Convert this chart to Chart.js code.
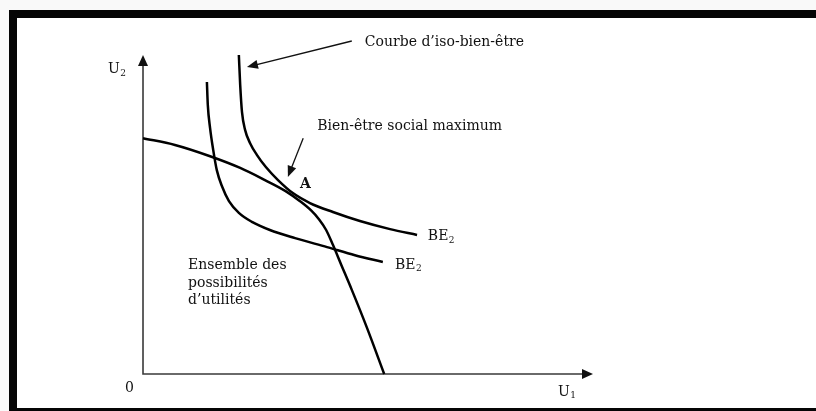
<!DOCTYPE html>
<html>
<head>
<meta charset="utf-8">
<script src="https://cdn.jsdelivr.net/npm/chart.js@4.4.1/dist/chart.umd.min.js"></script>
<style>
  html, body { margin: 0; padding: 0; background: #f9f9f9; }
  #wrap { position: relative; width: 816px; height: 411px; overflow: hidden; }
  #frame {
    position: absolute; left: 9px; top: 10px; width: 799px; height: 390px;
    background: #fff;
    border-top: 8px solid #050505; border-left: 8px solid #050505; border-bottom: 3px solid #050505;
  }
  #chart { position: absolute; left: 0; top: 0; }
</style>
</head>
<body>
<div id="wrap">
  <div id="frame"></div>
  <canvas id="chart" width="816" height="411"></canvas>
</div>
<script>
// utility possibility frontier (U1, U2)
const frontierU1 = [0, 0.71, 1.49, 2.16, 2.71, 3.16, 3.49, 3.73, 3.91, 4.07, 4.22, 4.4, 4.64, 4.98, 5.36];
const frontierU2 = [5.24, 5.09, 4.84, 4.58, 4.31, 4.07, 3.84, 3.64, 3.44, 3.2, 2.87, 2.44, 1.87, 1.02, 0];

// iso-welfare curve touching the frontier at A
const outerU1 = [2.13, 2.16, 2.2, 2.27, 2.38, 2.53, 2.73, 3.0, 3.33, 3.71, 4.22, 4.82, 5.49, 6.09];
const outerU2 = [7.09, 6.42, 5.82, 5.42, 5.13, 4.87, 4.6, 4.31, 4.02, 3.8, 3.6, 3.4, 3.22, 3.09];

// lower iso-welfare curve
const innerU1 = [1.42, 1.44, 1.49, 1.56, 1.64, 1.76, 1.91, 2.13, 2.42, 2.82, 3.38, 4.09, 4.71, 5.33];
const innerU2 = [6.49, 5.98, 5.47, 4.98, 4.53, 4.16, 3.84, 3.58, 3.38, 3.2, 3.02, 2.82, 2.64, 2.49];

// axis ends
const axisU1Max = 10;
const axisU2Max = 7.09;

// view window (in data units)
const X_MIN = -3.178, X_MAX = 14.956;
const Y_MIN = -0.822, Y_MAX = 8.311;

const toPoints = (xs, ys) => xs.map((x, i) => ({ x: x, y: ys[i] }));

// text and arrows drawn on top
const labels = [
  { text: "Courbe d\u2019iso-bien-\u00eatre", x: 4.93, y: 7.38 },
  { text: "Bien-\u00eatre social maximum", x: 3.87, y: 5.51 },
  { text: "A", x: 3.49, y: 4.22, bold: true },
  { text: "BE", sub: "2", x: 6.33, y: 3.06 },
  { text: "BE", sub: "2", x: 5.6, y: 2.42 },
  { text: "Ensemble des", x: 1.0, y: 2.42 },
  { text: "possibilit\u00e9s", x: 1.0, y: 2.02 },
  { text: "d\u2019utilit\u00e9s", x: 1.0, y: 1.64 },
  { text: "U", sub: "2", x: -0.78, y: 6.76 },
  { text: "0", x: -0.4, y: -0.33 },
  { text: "U", sub: "1", x: 9.22, y: -0.4 }
];
const arrows = [
  { from: [4.64, 7.4], to: [2.31, 6.82] },
  { from: [3.56, 5.24], to: [3.22, 4.38] }
];

function arrowHead(ctx, x1, y1, x2, y2, len, half) {
  const a = Math.atan2(y2 - y1, x2 - x1);
  ctx.beginPath();
  ctx.moveTo(x2, y2);
  ctx.lineTo(x2 - len * Math.cos(a) + half * Math.sin(a), y2 - len * Math.sin(a) - half * Math.cos(a));
  ctx.lineTo(x2 - len * Math.cos(a) - half * Math.sin(a), y2 - len * Math.sin(a) + half * Math.cos(a));
  ctx.closePath();
  ctx.fill();
}

const decorPlugin = {
  id: 'decor',
  beforeDatasetsDraw(chart) {
    const ctx = chart.ctx;
    const xs = chart.scales.x, ys = chart.scales.y;
    const ox = xs.getPixelForValue(0), oy = ys.getPixelForValue(0);
    const ex = xs.getPixelForValue(axisU1Max), ey = ys.getPixelForValue(axisU2Max);
    ctx.save();
    ctx.strokeStyle = '#3a3a3a';
    ctx.fillStyle = '#111';
    ctx.lineWidth = 1.6;
    ctx.beginPath();
    ctx.moveTo(ox, ey + 6);
    ctx.lineTo(ox, oy);
    ctx.lineTo(ex - 6, oy);
    ctx.stroke();
    arrowHead(ctx, ox, oy, ox, ey, 11, 5);
    arrowHead(ctx, ox, oy, ex, oy, 11, 5);
    ctx.restore();
  },
  afterDatasetsDraw(chart) {
    const ctx = chart.ctx;
    const xs = chart.scales.x, ys = chart.scales.y;
    ctx.save();
    ctx.strokeStyle = '#111';
    ctx.fillStyle = '#111';
    ctx.lineWidth = 1.3;
    arrows.forEach(a => {
      const x1 = xs.getPixelForValue(a.from[0]), y1 = ys.getPixelForValue(a.from[1]);
      const x2 = xs.getPixelForValue(a.to[0]), y2 = ys.getPixelForValue(a.to[1]);
      const ang = Math.atan2(y2 - y1, x2 - x1);
      ctx.beginPath();
      ctx.moveTo(x1, y1);
      ctx.lineTo(x2 - 6 * Math.cos(ang), y2 - 6 * Math.sin(ang));
      ctx.stroke();
      arrowHead(ctx, x1, y1, x2, y2, 11, 4.5);
    });
    ctx.fillStyle = '#111';
    ctx.textBaseline = 'middle';
    ctx.textAlign = 'left';
    labels.forEach(l => {
      const px = xs.getPixelForValue(l.x), py = ys.getPixelForValue(l.y);
      ctx.font = (l.bold ? 'bold ' : '') + '14px "DejaVu Serif", serif';
      ctx.fillText(l.text, px, py);
      if (l.sub) {
        const w = ctx.measureText(l.text).width;
        ctx.font = '9px "DejaVu Serif", serif';
        ctx.fillText(l.sub, px + w + 0.5, py + 4);
      }
    });
    ctx.restore();
  }
};

const curveStyle = {
  showLine: true,
  pointRadius: 0,
  borderColor: '#000',
  borderWidth: 2.5,
  fill: false,
  cubicInterpolationMode: 'monotone'
};

new Chart(document.getElementById('chart'), {
  type: 'scatter',
  data: {
    datasets: [
      Object.assign({ label: 'Frontière des possibilités d\u2019utilités', data: toPoints(frontierU1, frontierU2) }, curveStyle),
      Object.assign({ label: 'BE2 (A)', data: toPoints(outerU1, outerU2) }, curveStyle),
      Object.assign({ label: 'BE2', data: toPoints(innerU1, innerU2) }, curveStyle)
    ]
  },
  options: {
    responsive: false,
    animation: false,
    layout: { padding: 0 },
    plugins: { legend: { display: false }, tooltip: { enabled: false } },
    scales: {
      x: { type: 'linear', min: X_MIN, max: X_MAX, display: false },
      y: { type: 'linear', min: Y_MIN, max: Y_MAX, display: false }
    }
  },
  plugins: [decorPlugin]
});
</script>
</body>
</html>
